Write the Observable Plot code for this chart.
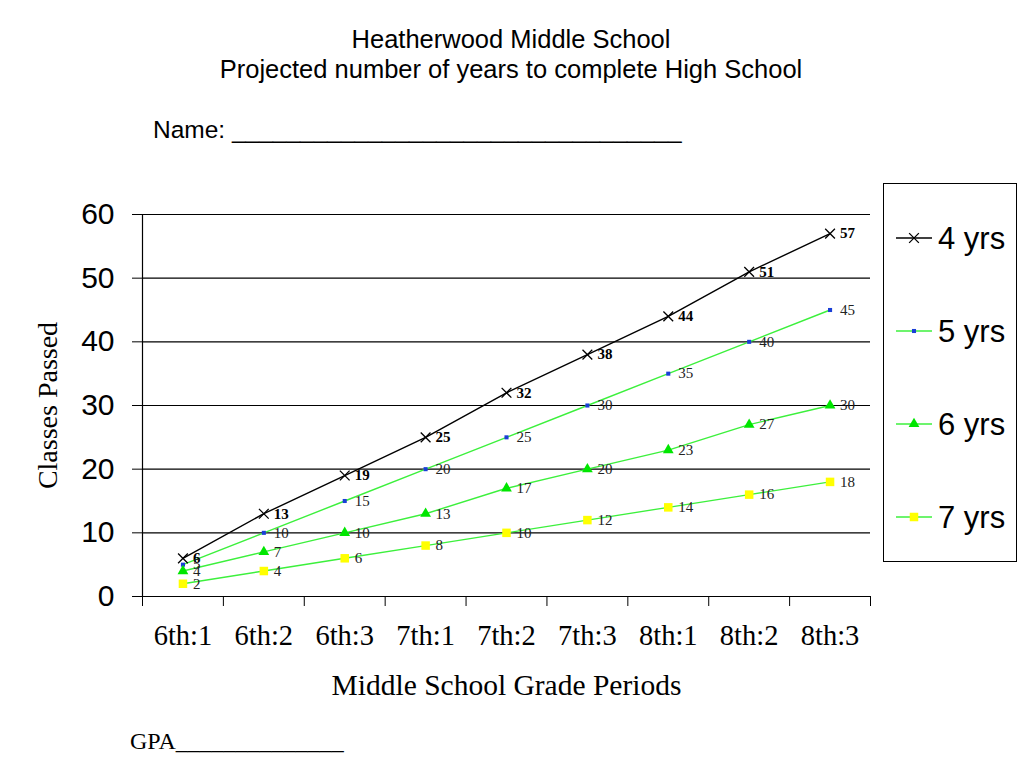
<!DOCTYPE html>
<html><head><meta charset="utf-8">
<script src="https://cdn.jsdelivr.net/npm/d3@7"></script>
<script src="https://cdn.jsdelivr.net/npm/@observablehq/plot@0.6"></script>
<style>
body{margin:0;background:#fff;}
#wrap{position:relative;width:1024px;height:768px;overflow:hidden;}
.t{position:absolute;white-space:pre;line-height:1;color:#000;}
.sans{font-family:'Liberation Sans',Arial,Helvetica,sans-serif;}
.serif{font-family:'Liberation Serif','Times New Roman',Times,serif;}
#legend{position:absolute;left:883px;top:183px;width:134px;height:379px;border:1px solid #000;box-sizing:border-box;background:#fff;}
.lrow{position:absolute;left:12px;height:30px;display:flex;align-items:center;}
.lrow span{font:31px 'Liberation Sans',Arial,sans-serif;margin-left:6px;line-height:1;}
</style></head><body>
<div id="wrap">
  <div id="chart"></div>
  <div class="t sans" style="left:0;width:1022px;text-align:center;top:27px;font-size:25.5px;">Heatherwood Middle School</div>
  <div class="t sans" style="left:0;width:1022px;text-align:center;top:57px;font-size:25.5px;">Projected number of years to complete High School</div>
  <div class="t sans" style="left:153px;top:118px;font-size:24.5px;">Name: _________________________________</div>
  <div class="t serif" style="left:130px;top:729px;font-size:24px;">GPA______________</div>
  <div id="legend"></div>
</div>
<script>
const categories = ["6th:1","6th:2","6th:3","7th:1","7th:2","7th:3","8th:1","8th:2","8th:3"];
const seriesNames = ["4 yrs","5 yrs","6 yrs","7 yrs"];
const yrs4 = [6,13,19,25,32,38,44,51,57];
const yrs5 = [5,10,15,20,25,30,35,40,45];
const yrs6 = [4,7,10,13,17,20,23,27,30];
const yrs7 = [2,4,6,8,10,12,14,16,18];
const yTicks = [0,10,20,30,40,50,60];

const SERIF = "'Liberation Serif','Times New Roman',Times,serif";
const SANS = "'Liberation Sans',Arial,Helvetica,sans-serif";
const GREEN = "#3cf03c";

const toRows = (name, vals) => vals.map((v, i) => ({series: name, i, cat: categories[i], v}));
const r4 = toRows(seriesNames[0], yrs4);
const r5 = toRows(seriesNames[1], yrs5);
const r6 = toRows(seriesNames[2], yrs6);
const r7 = toRows(seriesNames[3], yrs7);
const idx = categories.map((c, i) => i);
const bounds = [...idx.map(i => i - 0.5), categories.length - 0.5];

const styles = [
  {rows: r4, line: "#000", symbol: "times", r: 4.5, fill: "none", stroke: "#000", sw: 1.3, bold: true},
  {rows: r5, line: GREEN, symbol: "square", r: 2.3, fill: "#1a3fd6", stroke: "none", sw: 0, bold: false},
  {rows: r6, line: GREEN, symbol: "triangle", r: 4, fill: "#00e600", stroke: "none", sw: 0, bold: false},
  {rows: r7, line: GREEN, symbol: "square", r: 4.8, fill: "#ffff00", stroke: "none", sw: 0, bold: false}
];

const marks = [
  Plot.ruleY(yTicks.filter(t => t > 0), {stroke: "#000", strokeWidth: 1.2}),
  Plot.ruleY([0], {stroke: "#000", strokeWidth: 1.2}),
  Plot.ruleX([bounds[0]], {stroke: "#000", strokeWidth: 1.2}),
  Plot.axisY({ticks: yTicks, tickSize: 10, tickPadding: 18, fontSize: 30, fontFamily: SANS, label: null}),
  Plot.axisX({ticks: bounds, tickSize: 10, tickFormat: () => "", label: null}),
  Plot.axisX({ticks: idx, tickSize: 0, tickPadding: 28, tickFormat: i => categories[i], fontSize: 28.5, fontFamily: SERIF, label: null}),
  Plot.text(["Classes Passed"], {text: d => d, frameAnchor: "left", textAnchor: "middle", rotate: -90, dx: -94, fontSize: 28, fontFamily: SERIF}),
  Plot.text(["Middle School Grade Periods"], {text: d => d, frameAnchor: "bottom", dy: 98, fontSize: 29.5, fontFamily: SERIF})
];
for (const s of styles) {
  marks.push(Plot.line(s.rows, {x: "i", y: "v", stroke: s.line, strokeWidth: 1.4}));
}
for (const s of styles) {
  marks.push(Plot.dot(s.rows, {x: "i", y: "v", symbol: () => s.symbol, r: s.r, fill: s.fill, stroke: s.stroke, strokeWidth: s.sw}));
  marks.push(Plot.text(s.rows, {x: "i", y: "v", text: "v", dx: 10, textAnchor: "start", fontSize: 15, fontFamily: SERIF, fontWeight: s.bold ? "bold" : "normal", fill: s.bold ? "#000" : "#222"}));
}

const chart = Plot.plot({
  width: 1024, height: 768,
  marginLeft: 142, marginRight: 154, marginTop: 214, marginBottom: 172,
  x: {type: "linear", domain: [bounds[0], bounds[bounds.length - 1]]},
  y: {type: "linear", domain: [0, 60]},
  symbol: {type: "identity"},
  style: {background: "transparent", overflow: "visible", color: "#000"},
  marks
});
document.getElementById("chart").appendChild(chart);

// Legend
const legend = document.getElementById("legend");
const rowCenters = [54, 147, 240, 333];
styles.forEach((s, k) => {
  const row = document.createElement("div");
  row.className = "lrow";
  row.style.top = (rowCenters[k] - 15) + "px";
  const svg = d3.create("svg").attr("width", 36).attr("height", 30);
  svg.append("line").attr("x1", 0).attr("x2", 36).attr("y1", 15).attr("y2", 15).attr("stroke", s.line).attr("stroke-width", 1.4);
  const symMap = {times: d3.symbolTimes, square: d3.symbolSquare, triangle: d3.symbolTriangle};
  svg.append("path").attr("transform", "translate(18,15)")
    .attr("d", d3.symbol(symMap[s.symbol], Math.PI * s.r * s.r)())
    .attr("fill", s.fill).attr("stroke", s.stroke).attr("stroke-width", s.sw);
  row.appendChild(svg.node());
  const sp = document.createElement("span");
  sp.textContent = seriesNames[k];
  row.appendChild(sp);
  legend.appendChild(row);
});
</script>
</body></html>
